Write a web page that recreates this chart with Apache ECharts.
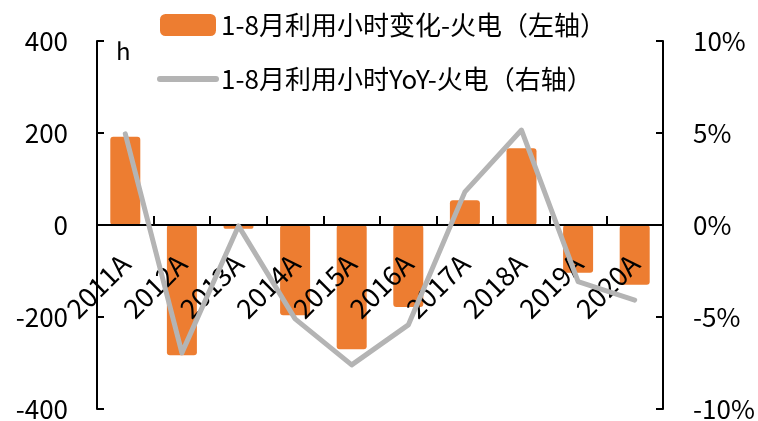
<!DOCTYPE html>
<html>
<head>
<meta charset="utf-8">
<script src="https://cdn.jsdelivr.net/npm/echarts@6/dist/echarts.min.js"></script>
<style>html,body{margin:0;padding:0;background:#fff}#c{width:758px;height:421px}</style>
</head>
<body>
<div id="c"></div>
<script>
const categories = ['2011A','2012A','2013A','2014A','2015A','2016A','2017A','2018A','2019A','2020A'];
const hourChange = [192, -283, -8, -196, -270, -178, 54, 167, -104, -130];
const hourYoY = [4.95, -6.95, -0.05, -5.1, -7.6, -5.43, 1.8, 5.16, -3.08, -4.08];
const leftTicks = {min: -400, max: 400, interval: 200};
const rightTicks = {min: -10, max: 10, interval: 5};
const seriesNames = ['1-8月利用小时变化-火电（左轴）', '1-8月利用小时YoY-火电（右轴）'];
const unitLabel = 'h';

const FONT = 'Noto Sans CJK SC';
const chart = echarts.init(document.getElementById('c'), null, {renderer: 'canvas'});
const GRID_TOP = 41, GRID_BOTTOM = 12, H = 421;
const plotH = H - GRID_TOP - GRID_BOTTOM;
const axisLine = {show: true, onZero: false, lineStyle: {color: '#000', width: 2}};
chart.setOption({
  animation: false,
  backgroundColor: '#fff',
  textStyle: {fontFamily: FONT, color: '#000'},
  grid: {left: 97, right: 95, top: GRID_TOP, bottom: GRID_BOTTOM, containLabel: false, outerBoundsMode: 'none'},
  legend: {
    orient: 'vertical', left: 157, top: 12, padding: 0, itemWidth: 56, itemHeight: 22, itemGap: 28,
    textStyle: {fontFamily: FONT, fontSize: 26, color: '#000'},
    data: [
      {name: seriesNames[0], icon: 'roundRect'},
      {name: seriesNames[1], itemStyle: {opacity: 0}, lineStyle: {width: 6, cap: 'round', color: '#B4B4B4'}}
    ]
  },
  graphic: [{type: 'text', left: 116, top: 39, style: {text: unitLabel, font: '24px "Noto Sans CJK SC"', fill: '#000'}}],
  xAxis: {
    type: 'category', data: categories, boundaryGap: true, position: 'bottom', z: 3,
    offset: -plotH / 2,
    axisLine: {show: true, onZero: false, lineStyle: {color: '#000', width: 2}},
    axisTick: {show: true, inside: true, length: 9, lineStyle: {color: '#000', width: 2}},
    axisLabel: {rotate: 45, margin: 34, fontSize: 27, fontFamily: FONT, color: '#000', interval: 0},
    splitLine: {show: false}
  },
  yAxis: [
    {type: 'value', min: leftTicks.min, max: leftTicks.max, interval: leftTicks.interval,
     axisLine: axisLine,
     axisTick: {show: true, inside: true, length: 7, lineStyle: {color: '#000', width: 2}},
     axisLabel: {margin: 29, fontSize: 26, fontFamily: FONT, color: '#000'},
     splitLine: {show: false}},
    {type: 'value', min: rightTicks.min, max: rightTicks.max, interval: rightTicks.interval,
     position: 'right', axisLine: axisLine,
     axisTick: {show: true, inside: true, length: 7, lineStyle: {color: '#000', width: 2}},
     axisLabel: {margin: 30, fontSize: 26, fontFamily: FONT, color: '#000', formatter: '{value}%'},
     splitLine: {show: false}}
  ],
  series: [
    {name: seriesNames[0], type: 'bar', data: hourChange, yAxisIndex: 0, barWidth: 30,
     itemStyle: {color: '#ED7D31', borderRadius: 3}, z: 2},
    {name: seriesNames[1], type: 'line', data: hourYoY, yAxisIndex: 1, symbol: 'none',
     lineStyle: {color: '#B4B4B4', width: 5, cap: 'round', join: 'round'}, itemStyle: {color: '#B4B4B4'}, z: 4}
  ]
});
</script>
</body>
</html>
